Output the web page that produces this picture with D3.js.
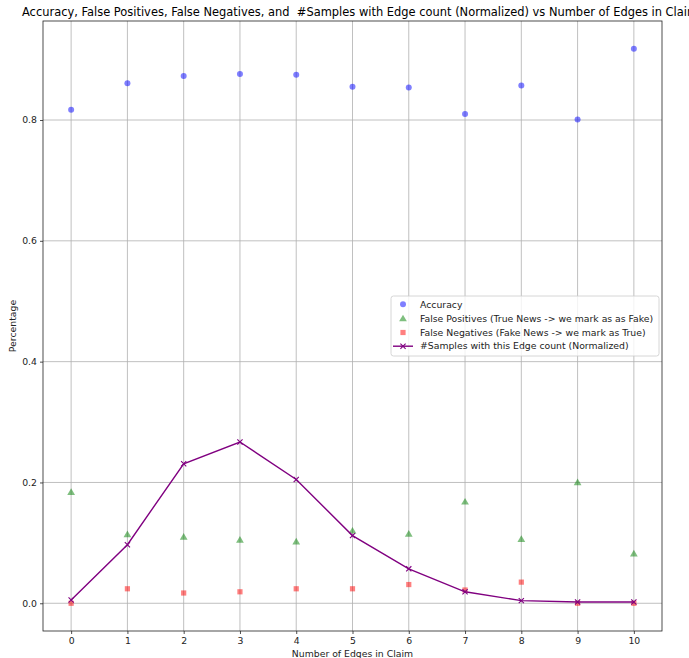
<!DOCTYPE html>
<html>
<head>
<meta charset="utf-8">
<script src="https://cdn.jsdelivr.net/npm/d3@7"></script>
<style>
html,body{margin:0;padding:0;background:#fff;}
svg{display:block;font-family:"DejaVu Sans",sans-serif;}
</style>
</head>
<body>
<script>
const edges = [0,1,2,3,4,5,6,7,8,9,10];
const accuracy = [0.817,0.861,0.873,0.876,0.875,0.855,0.854,0.810,0.857,0.801,0.918];
const falsePositives = [0.184,0.114,0.110,0.105,0.102,0.120,0.115,0.168,0.106,0.200,0.082];
const falseNegatives = [0.000,0.024,0.017,0.019,0.024,0.024,0.031,0.022,0.035,0.000,0.000];
const samplesNorm = [0.0055,0.097,0.231,0.267,0.205,0.112,0.057,0.019,0.0044,0.0022,0.0022];
const yTicks = [0.0,0.2,0.4,0.6,0.8];
const titleText = "Accuracy, False Positives, False Negatives, and  #Samples with Edge count (Normalized) vs Number of Edges in Claim";
const legendLabels = ["Accuracy","False Positives (True News -> we mark as as Fake)","False Negatives (Fake News -> we mark as True)","#Samples with this Edge count (Normalized)"];

const W = 689, H = 658;
const FS = "9.3px";
const m = {left:43, right:662, top:21, bottom:631};
const svg = d3.select("body").append("svg").attr("width",W).attr("height",H);

const x = d3.scaleLinear().domain([-0.5,10.5]).range([m.left,m.right]);
const y = d3.scaleLinear().domain([-0.0459,0.9639]).range([m.bottom,m.top]);

// grid
const g = svg.append("g");
g.selectAll(".vg").data(edges).enter().append("line")
  .attr("x1",d=>x(d)).attr("x2",d=>x(d)).attr("y1",m.top).attr("y2",m.bottom)
  .attr("stroke","#b0b0b0").attr("stroke-width",0.8);
g.selectAll(".hg").data(yTicks).enter().append("line")
  .attr("y1",d=>y(d)).attr("y2",d=>y(d)).attr("x1",m.left).attr("x2",m.right)
  .attr("stroke","#b0b0b0").attr("stroke-width",0.8);

// axes
const xAxis = d3.axisBottom(x).tickValues(edges).tickFormat(d3.format("d")).tickSize(3).tickPadding(3);
const yAxis = d3.axisLeft(y).tickValues(yTicks).tickFormat(d3.format(".1f")).tickSize(3).tickPadding(3);
const gx = svg.append("g").attr("transform",`translate(0,${m.bottom})`).call(xAxis);
const gy = svg.append("g").attr("transform",`translate(${m.left},0)`).call(yAxis);
[gx,gy].forEach(a=>{
  a.select(".domain").remove();
  a.selectAll("text").attr("font-size",FS).attr("fill","#222").attr("font-family","DejaVu Sans");
  a.selectAll("line").attr("stroke","#222").attr("stroke-width",0.8);
});

// scatter series
svg.append("g").selectAll("circle").data(edges).enter().append("circle")
  .attr("cx",d=>x(d)).attr("cy",(d,i)=>y(accuracy[i])).attr("r",3)
  .attr("fill","blue").attr("fill-opacity",0.5);

const tri = d3.symbol().type(d3.symbolTriangle).size(26);
svg.append("g").selectAll("path").data(edges).enter().append("path")
  .attr("d",tri).attr("transform",(d,i)=>`translate(${x(d)},${y(falsePositives[i])+0.6})`)
  .attr("fill","green").attr("fill-opacity",0.5);

const sq = 5.2;
svg.append("g").selectAll("rect").data(edges).enter().append("rect")
  .attr("x",d=>x(d)-sq/2).attr("y",(d,i)=>y(falseNegatives[i])-sq/2)
  .attr("width",sq).attr("height",sq)
  .attr("fill","red").attr("fill-opacity",0.5);

// line
const line = d3.line().x((d,i)=>x(edges[i])).y(d=>y(d));
svg.append("path").datum(samplesNorm).attr("d",line)
  .attr("fill","none").attr("stroke","purple").attr("stroke-width",1.4);
const xs = 2.6;
const xm = svg.append("g");
samplesNorm.forEach((v,i)=>{
  const cx = x(edges[i]), cy = y(v);
  xm.append("path").attr("d",`M${cx-xs},${cy-xs}L${cx+xs},${cy+xs}M${cx-xs},${cy+xs}L${cx+xs},${cy-xs}`)
    .attr("stroke","purple").attr("stroke-width",1.1).attr("fill","none");
});

// frame
svg.append("rect").attr("x",m.left).attr("y",m.top).attr("width",m.right-m.left).attr("height",m.bottom-m.top)
  .attr("fill","none").attr("stroke","#222").attr("stroke-width",0.8);

// labels
svg.append("text").attr("x",(m.left+m.right)/2).attr("y",657).attr("text-anchor","middle")
  .attr("font-size",FS).attr("fill","#222").text("Number of Edges in Claim");
svg.append("text").attr("transform",`translate(16,${(m.top+m.bottom)/2}) rotate(-90)`).attr("text-anchor","middle")
  .attr("font-size",FS).attr("fill","#222").text("Percentage");

// title (the reference's title runs past the right edge and is clipped there)
const t = svg.append("text").attr("x",22).attr("y",16).attr("font-size","12px").attr("fill","#000")
  .style("white-space","pre").text(titleText);
const tmp = svg.append("text").attr("font-size","12px").style("white-space","pre").text(titleText.slice(0,-1));
const wPart = tmp.node().getComputedTextLength(); tmp.remove();
const fs = 12*(688-22)/wPart;
t.attr("font-size",fs+"px");

// legend
const L = {x:391, y:296, w:268, h:60};
const lg = svg.append("g");
lg.append("rect").attr("x",L.x).attr("y",L.y).attr("width",L.w).attr("height",L.h).attr("rx",2.5)
  .attr("fill","#fff").attr("fill-opacity",0.8).attr("stroke","#cccccc").attr("stroke-width",0.8);
const rowY = [304.3,318.5,332.5,346.2];
lg.append("circle").attr("cx",403).attr("cy",rowY[0]).attr("r",3).attr("fill","blue").attr("fill-opacity",0.5);
lg.append("path").attr("d",tri).attr("transform",`translate(403,${rowY[1]+0.6})`).attr("fill","green").attr("fill-opacity",0.5);
lg.append("rect").attr("x",403-sq/2).attr("y",rowY[2]-sq/2).attr("width",sq).attr("height",sq).attr("fill","red").attr("fill-opacity",0.5);
lg.append("line").attr("x1",393).attr("x2",413).attr("y1",rowY[3]).attr("y2",rowY[3]).attr("stroke","purple").attr("stroke-width",1.4);
lg.append("path").attr("d",`M${403-xs},${rowY[3]-xs}L${403+xs},${rowY[3]+xs}M${403-xs},${rowY[3]+xs}L${403+xs},${rowY[3]-xs}`)
  .attr("stroke","purple").attr("stroke-width",1.1);
legendLabels.forEach((s,i)=>{
  lg.append("text").attr("x",420).attr("y",rowY[i]).attr("dy","0.35em").attr("font-size",FS).attr("fill","#222").text(s);
});
</script>
</body>
</html>
